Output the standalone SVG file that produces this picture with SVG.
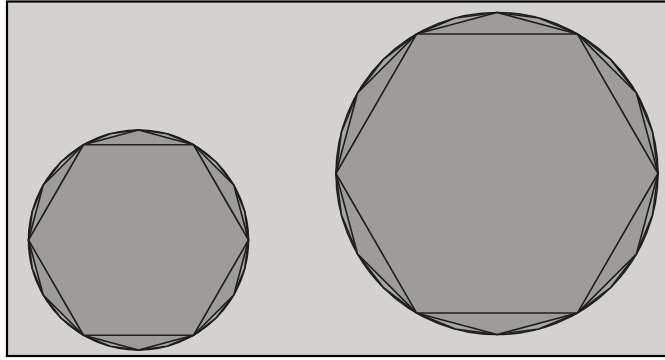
<svg xmlns="http://www.w3.org/2000/svg" width="665" height="360" viewBox="0 0 665 360">
<style>
.ln{fill:none;stroke:#1e1e1e;stroke-width:1.6;stroke-linejoin:round}
.sh{fill:#9e9c99;stroke:#1e1e1e;stroke-width:1.6;stroke-linejoin:round}
.sh2{fill:#a9a7a4;stroke:#1e1e1e;stroke-width:1.6;stroke-linejoin:round}
</style>
<rect x="0" y="0" width="665" height="360" fill="#ffffff"/>
<rect x="7" y="1.5" width="662" height="354.5" fill="#d4d2cf" stroke="#000" stroke-width="2.2"/>
<g id="small">
<circle class="ln" cx="138.5" cy="240" r="110"/>
<polygon class="sh2" points="248.5,240 244.75,268.47 233.76,295 216.28,317.78 193.5,335.26 166.97,346.25 138.5,350 110.03,346.25 83.5,335.26 60.72,317.78 43.24,295 32.25,268.47 28.5,240 32.25,211.53 43.24,185 60.72,162.22 83.5,144.74 110.03,133.75 138.5,130 166.97,133.75 193.5,144.74 216.28,162.22 233.76,185 244.75,211.53"/>
<polygon class="sh" points="248.5,240 233.76,295 193.5,335.26 138.5,350 83.5,335.26 43.24,295 28.5,240 43.24,185 83.5,144.74 138.5,130 193.5,144.74 233.76,185"/>
<polygon class="ln" points="248.5,240 193.5,335.26 83.5,335.26 28.5,240 83.5,144.74 193.5,144.74"/>
</g>
<g id="large">
<circle class="ln" cx="497" cy="173.5" r="161"/>
<polygon class="sh2" points="658,173.5 652.51,215.17 636.43,254 610.84,287.34 577.5,312.93 538.67,329.01 497,334.5 455.33,329.01 416.5,312.93 383.16,287.34 357.57,254 341.49,215.17 336,173.5 341.49,131.83 357.57,93 383.16,59.66 416.5,34.07 455.33,17.99 497,12.5 538.67,17.99 577.5,34.07 610.84,59.66 636.43,93 652.51,131.83"/>
<polygon class="sh" points="658,173.5 636.43,254 577.5,312.93 497,334.5 416.5,312.93 357.57,254 336,173.5 357.57,93 416.5,34.07 497,12.5 577.5,34.07 636.43,93"/>
<polygon class="ln" points="658,173.5 577.5,312.93 416.5,312.93 336,173.5 416.5,34.07 577.5,34.07"/>
</g>
</svg>
